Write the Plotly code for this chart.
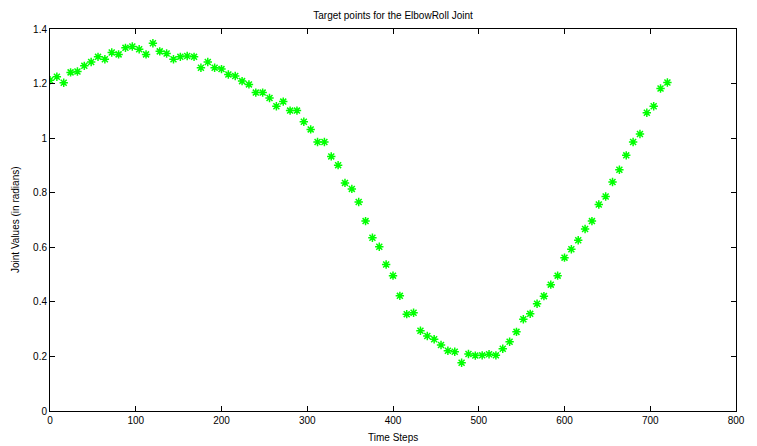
import plotly.graph_objects as go

time_steps = [0, 8, 16, 24, 32, 40, 48, 56, 64, 72, 80, 88, 96, 104, 112, 120, 128, 136, 144, 152,
              160, 168, 176, 184, 192, 200, 208, 216, 224, 232, 240, 248, 256, 264, 272, 280, 288, 296, 304, 312,
              320, 328, 336, 344, 352, 360, 368, 376, 384, 392, 400, 408, 416, 424, 432, 440, 448, 456, 464, 472,
              480, 488, 496, 504, 512, 520, 528, 536, 544, 552, 560, 568, 576, 584, 592, 600, 608, 616, 624, 632,
              640, 648, 656, 664, 672, 680, 688, 696, 704, 712, 720]

joint_values = [1.212, 1.225, 1.203, 1.241, 1.244, 1.265, 1.279, 1.298, 1.289, 1.314,
                1.307, 1.331, 1.336, 1.326, 1.307, 1.348, 1.318, 1.310, 1.289, 1.298,
                1.301, 1.298, 1.258, 1.279, 1.258, 1.253, 1.233, 1.228, 1.209, 1.197,
                1.167, 1.167, 1.147, 1.117, 1.134, 1.101, 1.101, 1.060, 1.032, 0.986,
                0.986, 0.933, 0.901, 0.836, 0.814, 0.766, 0.696, 0.635, 0.602, 0.537,
                0.496, 0.422, 0.355, 0.360, 0.294, 0.275, 0.263, 0.242, 0.221, 0.217,
                0.177, 0.209, 0.203, 0.204, 0.208, 0.204, 0.228, 0.254, 0.290, 0.336,
                0.356, 0.393, 0.421, 0.463, 0.496, 0.562, 0.593, 0.626, 0.667, 0.696,
                0.757, 0.786, 0.839, 0.884, 0.937, 0.986, 1.015, 1.093, 1.117, 1.182,
                1.204]

x_ticks = [0, 100, 200, 300, 400, 500, 600, 700, 800]
y_ticks = [0, 0.2, 0.4, 0.6, 0.8, 1.0, 1.2, 1.4]
y_tick_labels = ["0", "0.2", "0.4", "0.6", "0.8", "1", "1.2", "1.4"]

font_family = "Liberation Sans, Arial, sans-serif"

fig_w, fig_h = 757, 446

fig = go.Figure()
fig.add_trace(go.Scatter(
    x=time_steps, y=joint_values, mode="markers",
    marker=dict(symbol="asterisk-open", size=7, color="#00ff00",
                line=dict(color="#00ff00", width=1.5)),
    showlegend=False,
))

axis_common = dict(showgrid=False, zeroline=False, showline=True, linecolor="black",
                   linewidth=1, mirror="ticks", ticks="inside", ticklen=5,
                   tickcolor="black", tickfont=dict(family=font_family, size=10, color="black"))

fig.update_xaxes(range=[0, 800], tickvals=x_ticks, **axis_common)
fig.update_yaxes(range=[0, 1.4], tickvals=y_ticks, ticktext=y_tick_labels, **axis_common)

fig.update_layout(
    width=fig_w, height=fig_h,
    margin=dict(l=50, r=12, t=29, b=35),
    paper_bgcolor="white", plot_bgcolor="white",
    font=dict(family=font_family, size=10, color="black"),
    title=dict(text="Target points for the ElbowRoll Joint", x=0.5, xref="paper", xanchor="center",
               y=1 - 15 / fig_h, yanchor="middle", yref="container",
               font=dict(family=font_family, size=10, color="black")),
    annotations=[
        dict(text="Time Steps", x=0.5, y=0, xref="paper", yref="paper",
             xanchor="center", yanchor="middle", yshift=-26, showarrow=False,
             font=dict(family=font_family, size=10, color="black")),
        dict(text="Joint Values (in radians)", x=0, y=0.5, xref="paper", yref="paper",
             xanchor="center", yanchor="middle", xshift=-35, textangle=-90, showarrow=False,
             font=dict(family=font_family, size=10, color="black")),
    ],
)

fig.write_html("out.html", config={"displayModeBar": False},
               post_script="document.body.style.margin='0';document.body.style.overflow='hidden';")
